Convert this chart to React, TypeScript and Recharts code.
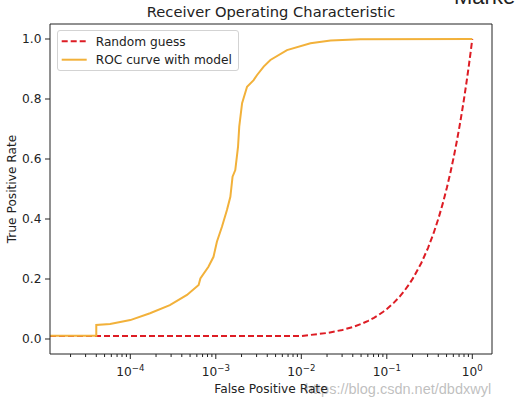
import React from 'react';
import { LineChart, Line, XAxis, YAxis, Legend, ReferenceLine } from 'recharts';

// ROC curve with model (false positive rate, true positive rate)
const rocFpr = [
  1.15e-5, 4.0e-5, 4.0e-5, 5.8e-5, 1.0e-4, 1.7e-4, 2.9e-4, 4.6e-4, 6.3e-4, 6.6e-4,
  8.2e-4, 9.4e-4, 1.03e-3, 1.18e-3, 1.35e-3, 1.48e-3, 1.57e-3, 1.69e-3, 1.82e-3, 1.88e-3,
  2.03e-3, 2.32e-3, 2.77e-3, 3.04e-3, 3.63e-3, 4.35e-3, 6.8e-3, 1.28e-2, 2.2e-2, 4.9e-2, 1.0,
];
const rocTpr = [
  0.011, 0.011, 0.047, 0.05, 0.063, 0.086, 0.113, 0.147, 0.18, 0.202,
  0.241, 0.274, 0.324, 0.374, 0.43, 0.474, 0.541, 0.563, 0.641, 0.708,
  0.786, 0.841, 0.863, 0.88, 0.908, 0.93, 0.963, 0.986, 0.995, 0.999, 1.0,
];

// Random guess (diagonal drawn on a log x axis)
const guessFpr = [
  1.15e-5, 0.0101, 0.0202, 0.0303, 0.0404, 0.0505, 0.0606, 0.0707, 0.0808, 0.0909,
  0.101, 0.1212, 0.1414, 0.1616, 0.1818, 0.202, 0.2525, 0.303, 0.3535, 0.404,
  0.4545, 0.505, 0.5556, 0.606, 0.6566, 0.707, 0.7576, 0.808, 0.8586, 0.909, 0.9596, 1.0,
];
const guessTpr = [
  0.0101, 0.0101, 0.0202, 0.0303, 0.0404, 0.0505, 0.0606, 0.0707, 0.0808, 0.0909,
  0.101, 0.1212, 0.1414, 0.1616, 0.1818, 0.202, 0.2525, 0.303, 0.3535, 0.404,
  0.4545, 0.505, 0.5556, 0.606, 0.6566, 0.707, 0.7576, 0.808, 0.8586, 0.909, 0.9596, 1.0,
];

// Axis ticks
const xMajorTicks = [1e-4, 1e-3, 1e-2, 1e-1, 1];
const xMajorExponents = ['\u22124', '\u22123', '\u22122', '\u22121', '0'];
const xMinorTicks = [
  2e-5, 3e-5, 4e-5, 5e-5, 6e-5, 7e-5, 8e-5, 9e-5,
  2e-4, 3e-4, 4e-4, 5e-4, 6e-4, 7e-4, 8e-4, 9e-4,
  2e-3, 3e-3, 4e-3, 5e-3, 6e-3, 7e-3, 8e-3, 9e-3,
  2e-2, 3e-2, 4e-2, 5e-2, 6e-2, 7e-2, 8e-2, 9e-2,
  2e-1, 3e-1, 4e-1, 5e-1, 6e-1, 7e-1, 8e-1, 9e-1,
];
const xDomain = [1.15e-5, 1.7];
const yTicks = [0, 0.2, 0.4, 0.6, 0.8, 1.0];
const yDomain = [-0.05, 1.05];

const seriesNames = ['Random guess', 'ROC curve with model'];
const RED = '#DD1C24';
const ORANGE = '#F2B13A';
const FONT = 'DejaVu Sans';
const AXIS = '#222';

const rocData = rocFpr.map((x, i) => ({ x, y: rocTpr[i] }));
const guessData = guessFpr.map((x, i) => ({ x, y: guessTpr[i] }));
const allXTicks = [...xMinorTicks, ...xMajorTicks].sort((a, b) => a - b);

const XTick = (props: any) => {
  const { x, y, payload } = props;
  const idx = xMajorTicks.indexOf(payload.value);
  const major = idx >= 0;
  return (
    <g>
      <line x1={x} x2={x} y1={y} y2={y + (major ? 5 : 3)} stroke={AXIS} strokeWidth={1} />
      {major && (
        <text x={x} y={y + 22} textAnchor="middle" fontFamily={FONT} fontSize={12.2} fill={AXIS}>
          10
          <tspan dy={-5} fontSize={8.6}>{xMajorExponents[idx]}</tspan>
        </text>
      )}
    </g>
  );
};

const LegendBox = () => (
  <div
    style={{
      width: 182,
      height: 41,
      border: '1px solid #d3d3d3',
      borderRadius: 3,
      background: 'rgba(255,255,255,0.8)',
      boxSizing: 'border-box',
      position: 'relative',
    }}
  >
    <svg width={182} height={41} style={{ position: 'absolute', left: -1, top: -1 }}>
      <line x1={4.7} x2={29.7} y1={11.3} y2={11.3} stroke={RED} strokeWidth={2} strokeDasharray="6 3" />
      <text x={38.7} y={15.6} fontFamily={FONT} fontSize={12.2} fill={AXIS}>{seriesNames[0]}</text>
      <line x1={4.7} x2={29.7} y1={29.7} y2={29.7} stroke={ORANGE} strokeWidth={2} />
      <text x={38.7} y={34} fontFamily={FONT} fontSize={12.2} fill={AXIS}>{seriesNames[1]}</text>
    </svg>
  </div>
);

export default function App() {
  return (
    <div style={{ position: 'absolute', left: 0, top: 0, width: 515, height: 409, background: '#fff' }}>
      <LineChart width={515} height={409} margin={{ top: 24, right: 23, bottom: 0, left: 0 }}>
        <XAxis
          dataKey="x"
          type="number"
          scale="log"
          domain={xDomain}
          allowDataOverflow
          ticks={allXTicks}
          interval={0}
          tick={<XTick />}
          tickLine={false}
          tickSize={0}
          tickMargin={0}
          height={55}
          axisLine={{ stroke: AXIS, strokeWidth: 1 }}
          label={{ value: 'False Positive Rate', position: 'center', dy: 7, fontFamily: FONT, fontSize: 12.2, fill: AXIS }}
        />
        <YAxis
          type="number"
          domain={yDomain}
          allowDataOverflow
          ticks={yTicks}
          interval={0}
          width={50}
          tickSize={5}
          tickMargin={3.5}
          tickLine={{ stroke: AXIS }}
          axisLine={{ stroke: AXIS, strokeWidth: 1 }}
          tickFormatter={(v: number) => v.toFixed(1)}
          tick={{ fontFamily: FONT, fontSize: 12.2, fill: AXIS }}
          label={{ value: 'True Positive Rate', angle: -90, position: 'center', dx: -13, fontFamily: FONT, fontSize: 12.2, fill: AXIS }}
        />
        <ReferenceLine y={yDomain[1]} stroke={AXIS} strokeWidth={1} ifOverflow="visible" />
        <ReferenceLine x={xDomain[1]} stroke={AXIS} strokeWidth={1} ifOverflow="visible" />
        <Legend
          layout="vertical"
          align="center"
          verticalAlign="middle"
          wrapperStyle={{ left: 57, top: 30, width: 182, height: 41 }}
          content={() => <LegendBox />}
        />
        <Line
          data={guessData}
          dataKey="y"
          name={seriesNames[0]}
          type="linear"
          stroke={RED}
          strokeWidth={2}
          strokeDasharray="6 3"
          dot={false}
          activeDot={false}
          isAnimationActive={false}
        />
        <Line
          data={rocData}
          dataKey="y"
          name={seriesNames[1]}
          type="linear"
          stroke={ORANGE}
          strokeWidth={2}
          dot={false}
          activeDot={false}
          isAnimationActive={false}
        />
        <text x={271} y={17} textAnchor="middle" fontFamily={FONT} fontSize={14.7} fill={AXIS}>
          Receiver Operating Characteristic
        </text>
        <text x={454} y={4} fontFamily="Liberation Sans" fontSize={22} fill={AXIS}>
          Marke
        </text>
        <text x={305} y={394} fontFamily="Liberation Sans" fontSize={14.5} fill="rgba(170,170,170,0.75)">
          https://blog.csdn.net/dbdxwyl
        </text>
      </LineChart>
    </div>
  );
}
